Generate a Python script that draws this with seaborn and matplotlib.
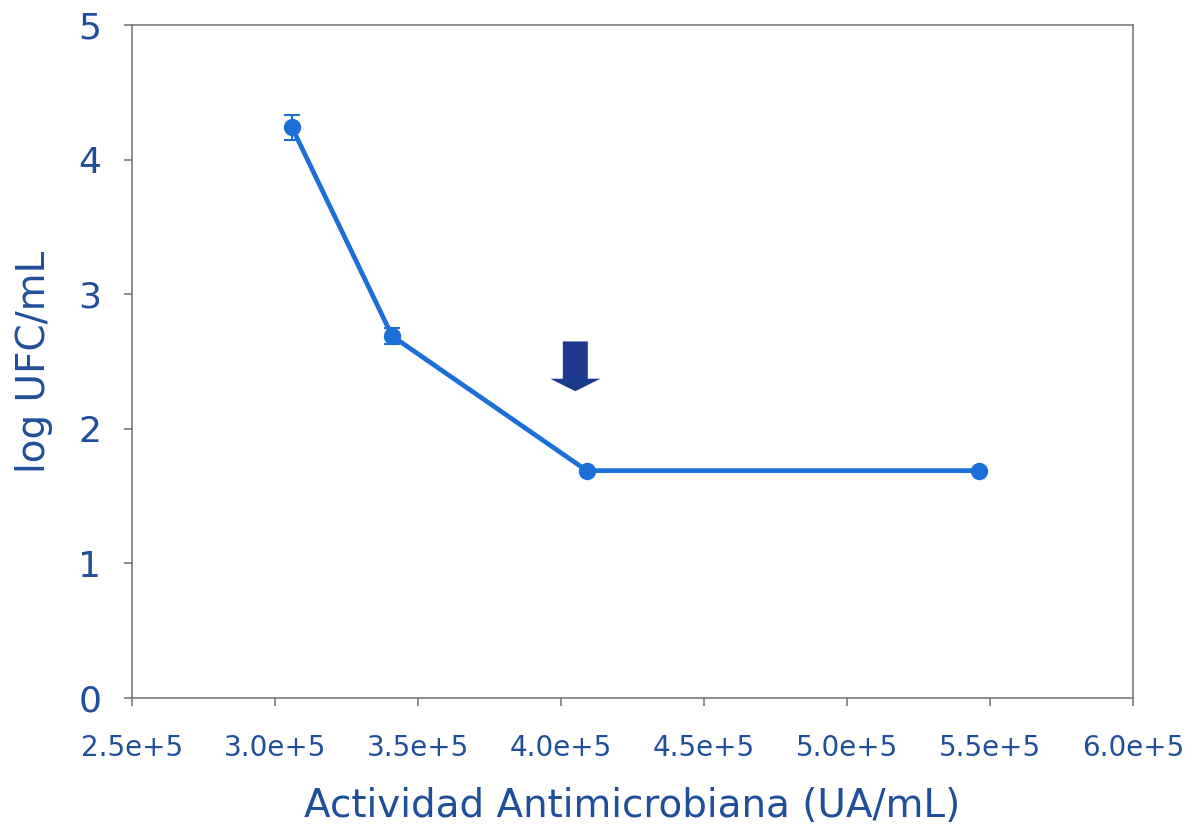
import matplotlib
matplotlib.use("Agg")
import matplotlib.pyplot as plt
import numpy as np
import pandas as pd
import seaborn as sns

# ------------------------------------------------------------------ #
# Data                                                                 #
# ------------------------------------------------------------------ #
actividad = [3.06e5, 3.41e5, 4.09e5, 5.46e5]    # UA/mL
log_ufc = [4.24, 2.69, 1.69, 1.69]
log_ufc_err = [0.09, 0.06, 0.0, 0.0]

x_ticks = [2.5e5, 3.0e5, 3.5e5, 4.0e5, 4.5e5, 5.0e5, 5.5e5, 6.0e5]
x_tick_labels = ["2.5e+5", "3.0e+5", "3.5e+5", "4.0e+5", "4.5e+5", "5.0e+5", "5.5e+5", "6.0e+5"]
y_ticks = [0, 1, 2, 3, 4, 5]

# arrow pointing at the first point of the plateau
arrow_x = 4.05e5
arrow_top, arrow_tip = 2.65, 2.28

LINE_COLOR = "#1c6fd6"
TEXT_COLOR = "#1f4f9a"
ARROW_COLOR = "#1b3a8c"
SPINE_COLOR = "#7a7a7a"

sns.set_style("white")
plt.rcParams["font.family"] = ["DejaVu Sans"]

df = pd.DataFrame({"actividad": actividad, "log_ufc": log_ufc, "err": log_ufc_err})

fig = plt.figure(figsize=(11.98, 8.40), dpi=100)
ax = fig.add_axes([0.110, 0.169, 0.836, 0.801])

sns.lineplot(data=df, x="actividad", y="log_ufc", ax=ax, color=LINE_COLOR,
             linewidth=3.4, marker="o", markersize=12.5, markeredgewidth=0)
ax.errorbar(df["actividad"], df["log_ufc"], yerr=df["err"], fmt="none",
            ecolor=LINE_COLOR, elinewidth=1.5, capsize=6, capthick=1.5)

ax.annotate("", xy=(arrow_x, arrow_tip), xytext=(arrow_x, arrow_top),
            arrowprops=dict(arrowstyle="simple,head_width=2.0,head_length=0.5,tail_width=1.0",
                            mutation_scale=18, color=ARROW_COLOR, lw=0,
                            shrinkA=0, shrinkB=0))

ax.set_xlim(2.5e5, 6.0e5)
ax.set_ylim(0, 5)
ax.set_xticks(x_ticks)
ax.set_xticklabels(x_tick_labels)
ax.set_yticks(y_ticks)

for side in ["left", "bottom", "top", "right"]:
    ax.spines[side].set_color(SPINE_COLOR)
    ax.spines[side].set_linewidth(1.2)

ax.tick_params(axis="x", direction="out", length=6, width=1.2, color=SPINE_COLOR,
               labelsize=20, labelcolor=TEXT_COLOR, pad=20, bottom=True)
ax.tick_params(axis="y", direction="out", length=6, width=1.2, color=SPINE_COLOR,
               labelsize=26, labelcolor=TEXT_COLOR, pad=16, left=True)

ax.set_xlabel("Actividad Antimicrobiana (UA/mL)", fontsize=28, color=TEXT_COLOR, labelpad=18)
ax.set_ylabel("log UFC/mL", fontsize=28, color=TEXT_COLOR, labelpad=18)

fig.savefig("out.png", dpi=100)
